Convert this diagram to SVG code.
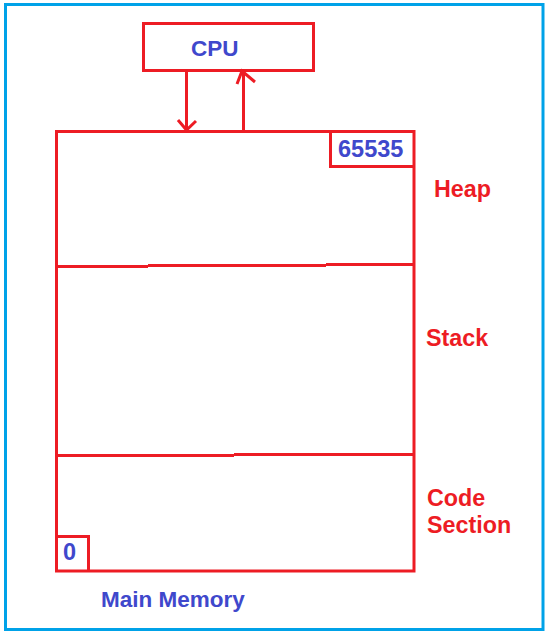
<svg xmlns="http://www.w3.org/2000/svg" width="550" height="636" viewBox="0 0 550 636">
<style>
.box{fill:none;stroke:#ed1c24;stroke-width:3}
.ln{fill:none;stroke:#ed1c24;stroke-width:3;stroke-linecap:butt}
.blue{font-family:"Liberation Sans",Arial,sans-serif;font-weight:bold;font-size:22.5px;fill:#3f48cc}
.num{font-family:"Liberation Sans",Arial,sans-serif;font-weight:bold;font-size:23.5px;fill:#3f48cc}
.red{font-family:"Liberation Sans",Arial,sans-serif;font-weight:bold;font-size:23.3px;fill:#ed1c24}
</style>
<rect x="0" y="0" width="550" height="636" fill="#ffffff"/>
<rect x="5.5" y="4.5" width="537.5" height="625" fill="none" stroke="#00a2e8" stroke-width="3"/>
<g id="cpu">
<rect class="box" x="143.5" y="23.5" width="170" height="47"/>
<text class="blue" x="191" y="56">CPU</text>
</g>
<g id="memory">
<rect class="box" x="56.5" y="131.5" width="357.5" height="439.5"/>
<path class="ln" d="M56 266.5H148M148 265.5H326M326 264.5H414"/>
<path class="ln" d="M56 455.5H234M234 454.5H414"/>
</g>
<g id="top-address">
<path class="ln" d="M330.5 131V166.5H414"/>
<text class="num" x="338" y="157">65535</text>
</g>
<g id="bottom-address">
<path class="ln" d="M56 536.5H88.5V572"/>
<text class="num" x="63" y="560">0</text>
</g>
<g id="labels">
<text class="red" x="434" y="197">Heap</text>
<text class="red" x="426" y="346">Stack</text>
<text class="red" x="427" y="506">Code</text>
<text class="red" x="427" y="533">Section</text>
<text class="blue" x="101" y="607">Main Memory</text>
</g>
<g id="connectors">
<path class="ln" d="M186.5 71V130"/>
<path class="ln" d="M178 120L186.5 130L196 121"/>
<path class="ln" d="M243.5 131V72"/>
<path class="ln" d="M237 84L242 71L255 82"/>
</g>
</svg>
